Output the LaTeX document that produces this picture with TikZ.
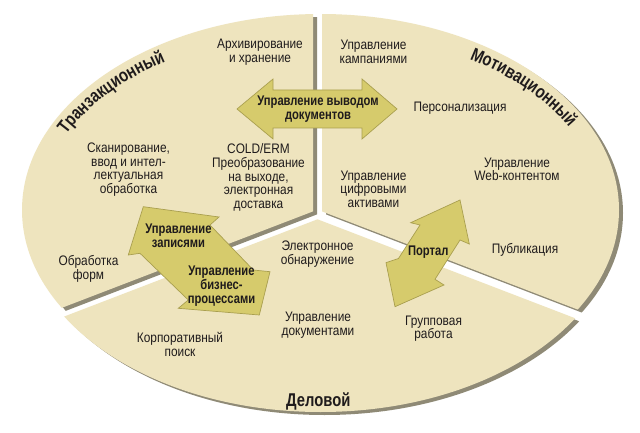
\documentclass[tikz,border=0pt]{standalone}
\usepackage{fontspec}
\usetikzlibrary{decorations.text}
\setmainfont{Liberation Sans}[FakeStretch=0.86]
\newfontfamily\bcf{Liberation Sans}[FakeStretch=0.8]
\definecolor{beige}{HTML}{EEE4BE}
\definecolor{shad}{HTML}{8F8A76}
\definecolor{arrowf}{HTML}{D6CB6C}
\definecolor{arrowd}{HTML}{A99F4F}
\definecolor{txt}{HTML}{1F1B1C}
\tikzset{
  lbl/.style={align=center, text=txt, inner sep=0pt, font=\fontsize{13.8}{13.6}\selectfont},
  blbl/.style={align=center, text=txt, inner sep=0pt, font=\bcf\bfseries\fontsize{14}{14}\selectfont},
  biglbl/.style={text=txt, inner sep=0pt, font=\bcf\bfseries\fontsize{18.5}{20}\selectfont},
  secshadow/.style={fill=shad},
  secfill/.style={fill=beige},
  bigarrow/.style={fill=arrowf, draw=arrowd, line width=0.7pt, line join=miter},
  arctitle/.style={decorate, decoration={text along path, text align=center,
     text={|\color{txt}\bcf\bfseries\fontsize{18.5}{20}\selectfont|#1}}}
}
\begin{document}
\begin{tikzpicture}[x=1pt,y=-1pt]
\useasboundingbox (0,0) rectangle (640,433);
\fill[white] (0,0) rectangle (640,433);

% ---- left sector (Transactional)
\begin{scope}[shift={(4,3)}]
  \clip (313,211.4) -- (313,-10) -- (-10,-10) -- (-10,335.4) -- cycle;
  \fill[secshadow] (320.5,210) ellipse [x radius=298.5pt, y radius=196pt];
\end{scope}
\begin{scope}
  \clip (313,211.4) -- (313,-10) -- (-10,-10) -- (-10,335.4) -- cycle;
  \fill[secfill] (320.5,210) ellipse [x radius=298.5pt, y radius=196pt];
\end{scope}

% ---- right sector (Motivational)
\begin{scope}[shift={(4,3)}]
  \clip (322,211.4) -- (322,-10) -- (650,-10) -- (650,337.3) -- cycle;
  \fill[secshadow] (320.5,210) ellipse [x radius=298.5pt, y radius=196pt];
\end{scope}
\begin{scope}
  \clip (322,211.4) -- (322,-10) -- (650,-10) -- (650,337.3) -- cycle;
  \fill[secfill] (320.5,210) ellipse [x radius=298.5pt, y radius=196pt];
\end{scope}

% ---- bottom sector (Business)
\begin{scope}[shift={(4,3)}]
  \clip (317.5,219.3) -- (650,347) -- (650,450) -- (-10,450) -- (-10,345) -- cycle;
  \fill[secshadow] (320.5,216) ellipse [x radius=298.5pt, y radius=196pt];
\end{scope}
\begin{scope}
  \clip (317.5,219.3) -- (650,347) -- (650,450) -- (-10,450) -- (-10,345) -- cycle;
  \fill[secfill] (320.5,216) ellipse [x radius=298.5pt, y radius=196pt];
\end{scope}

% ---- sector titles (curved along the rim)
\path[arctitle=Транзакционный]
  plot[domain=161:119, samples=50, variable=\t] ({320.5+280.5*cos(\t)}, {210-178*sin(\t)});
\path[arctitle=Мотивационный]
  plot[domain=63:21, samples=50, variable=\t] ({320.5+280.5*cos(\t)}, {210-178*sin(\t)});
\node[biglbl] (tbiz) at (318.3,401.7) {Деловой};

% ---- sector texts
\node[lbl] (arch) at (260,52) {Архивирование\\и хранение};
\node[lbl] (camp) at (373.5,52) {Управление\\кампаниями};
\node[lbl] (pers) at (460,108.3) {Персонализация};
\node[lbl] (scan) at (128.5,169.5) {Сканирование,\\ввод и интел-\\лектуальная\\обработка};
\node[lbl] (cold) at (258.5,177.5) {COLD/ERM\\Преобразование\\на выходе,\\электронная\\доставка};
\node[lbl] (digi) at (373.5,189) {Управление\\цифровыми\\активами};
\node[lbl] (web) at (517,169.5) {Управление\\Web-контентом};
\node[lbl] (forms) at (88.5,269) {Обработка\\форм};
\node[lbl] (edisc) at (317.5,254) {Электронное\\обнаружение};
\node[lbl] (publ) at (525,250) {Публикация};
\node[lbl] (docs) at (318,325) {Управление\\документами};
\node[lbl] (group) at (433.5,328.5) {Групповая\\работа};
\node[lbl] (search) at (180,344.5) {Корпоративный\\поиск};

% ---- arrows
\filldraw[bigarrow] (237,109) -- (273,79) -- (273,90) -- (362,90) -- (362,79) -- (397,109)
  -- (362,139) -- (362,128) -- (273,128) -- (273,139) -- cycle;
\filldraw[bigarrow] (143.3,206.7) -- (219,217) -- (210,225) -- (253.3,270) -- (270,271.7)
  -- (259.3,315) -- (178.3,308.3) -- (188.3,300) -- (140,253.3) -- (128.3,255) -- cycle;
\filldraw[bigarrow] (460,200) -- (469.3,244) -- (460,240) -- (435,279.3) -- (444,285)
  -- (395,306.7) -- (386,262.7) -- (398.5,258.5) -- (420,225) -- (410.7,222.7) -- cycle;

% ---- arrow labels
\node[blbl] (outm) at (318,109.5) {Управление выводом\\документов};
\node[blbl] (recm) at (178.5,236) {Управление\\записями};
\node[blbl] (bpm) at (221.5,286) {Управление\\бизнес-\\процессами};
\node[blbl] (portal) at (428.3,251.7) {Портал};
\end{tikzpicture}
\end{document}
